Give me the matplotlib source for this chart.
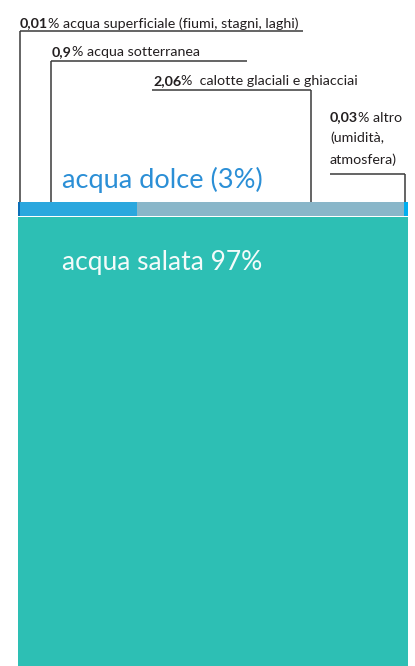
import matplotlib
matplotlib.use("Agg")
import matplotlib.pyplot as plt
import numpy as np

# ---- data ----
fresh_labels = ["acqua superficiale (fiumi, stagni, laghi)", "acqua sotterranea",
                "calotte glaciali e ghiacciai", "altro\n(umidità,\natmosfera)"]
fresh_numbers = ["0,01", "0,9", "2,06", "0,03"]
fresh_values = [0.01, 0.9, 2.06, 0.03]
fresh_colors = ["#0b6fb8", "#2aa7de", "#89b6c9", "#00aeef"]
fresh_total = 3
salt_value = 97
title_fresh = "acqua dolce (3%)"
title_salt = "acqua salata 97%"

FONT = ["Lato", "DejaVu Sans"]
plt.rcParams["font.family"] = FONT

W, H = 415, 666
fig = plt.figure(figsize=(W / 100, H / 100), dpi=100)
x0_px, width_px = 18.3, 390.0
ax = fig.add_axes([x0_px / W, 0, width_px / W, 1])
ax.set_xlim(0, fresh_total)
ax.set_ylim(H, 0)
ax.axis("off")

S = width_px / fresh_total  # px per unit


def px(x):
    return (x - x0_px) / S


strip_top, strip_bot = 202, 215.5
salt_top = 217
salt_height = (salt_value / fresh_total) * (strip_bot - strip_top) + 40

# fresh water strip (stacked)
lefts = np.concatenate([[0], np.cumsum(fresh_values)[:-1]])
ax.barh(y=(strip_top + strip_bot) / 2, width=fresh_values, left=lefts,
        height=strip_bot - strip_top, color=fresh_colors, linewidth=0)

# salt water block
ax.bar(x=0, width=fresh_total, bottom=salt_top, height=salt_height, align="edge",
       color="#2dbfb4", linewidth=0)

# annotations: (text x px, baseline y px, line y px, line x start, line x end, vertical x)
ann = [
    (20, 27.5, 31, 19.5, 303, 19.5),
    (52, 56.5, 61, 51, 246.5, 51),
    (153, 85, 90, 151.7, 311, 311),
    (330, 121.5, 174, 329.5, 405, 405),
]
lc = "#3a3a3a"
FS = 10.3
tc = "#231f20"
for i, (tx, ty, ly, lx0, lx1, vx) in enumerate(ann):
    t1 = ax.text(px(tx), ty, fresh_numbers[i], fontsize=FS, fontweight="bold",
                 color=tc, va="baseline", ha="left")
    rest = "%" + ("  " if i == 2 else " ") + fresh_labels[i]
    if i == 3:
        lines = rest.split("\n")
        ax.annotate(lines[0], xy=(1, ty), xycoords=(t1, "data"), fontsize=FS,
                    color=tc, va="baseline", ha="left")
        for k, ln in enumerate(lines[1:]):
            ax.text(px(tx), ty + 21 * (k + 1), ln, fontsize=FS, color=tc,
                    va="baseline", ha="left")
    else:
        ax.annotate(rest, xy=(1, ty), xycoords=(t1, "data"), fontsize=FS,
                    color=tc, va="baseline", ha="left")
    ax.plot([px(lx0), px(lx1)], [ly, ly], color=lc, lw=1.1, solid_capstyle="butt")
    ax.plot([px(vx), px(vx)], [ly, strip_top], color=lc, lw=1.1, solid_capstyle="butt")

ax.text(px(62), 188, title_fresh, fontsize=19.5, color="#2b8fd6", va="baseline", ha="left")
ax.text(px(62), 270, title_salt, fontsize=19, color="#f4fbfa", va="baseline", ha="left")

fig.savefig("out.png", dpi=100)
